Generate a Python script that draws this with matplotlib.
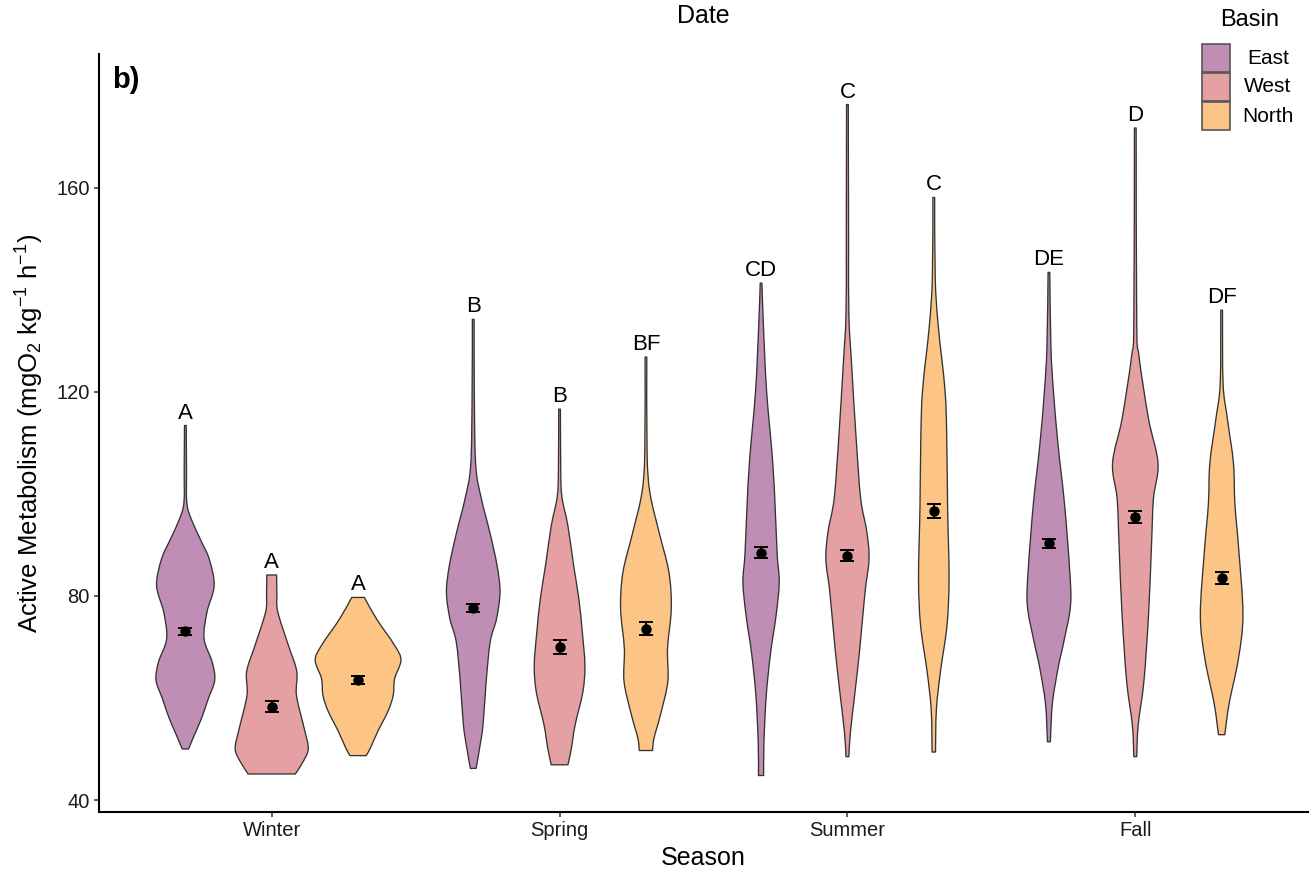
import matplotlib
matplotlib.use("Agg")
import matplotlib.pyplot as plt
from matplotlib.path import Path
from matplotlib.patches import PathPatch, Rectangle
import numpy as np

plt.rcParams["font.family"] = ["Liberation Sans", "DejaVu Sans"]
plt.rcParams["mathtext.default"] = "regular"

seasons = ["Winter", "Spring", "Summer", "Fall"]
basins = ["East", "West", "North"]
basin_colors = ["#C08DB4", "#E5A0A3", "#FCC585"]

# density outlines: metabolism value and half-width of the violin at that value
east_winter_y = [50.0, 52.7, 56.0, 59.9, 63.5, 67.1, 71.6, 76.8, 82.0, 87.2, 91.1, 95.0, 98.3, 105.0, 113.4]
east_winter_w = [.011, .031, .056, .080, .102, .093, .065, .075, .100, .083, .052, .021, .005, .004, .003]
west_winter_y = [45.1, 47.6, 50.1, 54.0, 60.5, 65.2, 70.3, 76.9, 80.5, 84.1]
west_winter_w = [.082, .110, .127, .113, .086, .087, .058, .021, .018, .017]
north_winter_y = [48.7, 50.1, 53.5, 57.4, 60.5, 63.8, 67.4, 70.3, 75.5, 79.7]
north_winter_w = [.028, .042, .069, .104, .122, .127, .149, .127, .064, .022]

east_spring_y = [46.2, 50.1, 54.7, 63.2, 71.0, 75.5, 80.7, 85.9, 92.4, 98.9, 105.4, 118.4, 134.2]
east_spring_w = [.010, .022, .034, .045, .059, .081, .093, .083, .058, .029, .009, .004, .003]
west_spring_y = [46.9, 50.1, 54.7, 61.2, 66.4, 72.9, 79.4, 85.9, 93.7, 99.5, 105.0, 116.6]
west_spring_w = [.029, .041, .054, .081, .088, .079, .067, .049, .029, .008, .004, .003]
north_spring_y = [49.7, 52.1, 56.6, 63.2, 69.7, 77.5, 84.6, 92.4, 100.2, 108.1, 126.8]
north_spring_w = [.023, .028, .050, .076, .075, .088, .080, .046, .014, .004, .003]

east_summer_y = [44.8, 51.3, 60.5, 68.8, 76.1, 82.6, 88.1, 97.3, 106.5, 120.3, 133.2, 141.3]
east_summer_w = [.009, .010, .018, .033, .052, .063, .056, .049, .040, .019, .008, .003]
west_summer_y = [48.5, 53.1, 60.5, 69.7, 80.7, 87.2, 92.7, 99.1, 111.1, 124.9, 135.1, 150.0, 176.3]
west_summer_w = [.005, .010, .025, .043, .061, .075, .067, .046, .030, .015, .005, .004, .003]
north_summer_y = [49.4, 57.7, 65.1, 74.3, 83.5, 97.3, 111.1, 120.3, 133.2, 142.4, 158.1]
north_summer_w = [.006, .009, .023, .046, .053, .048, .045, .039, .015, .005, .003]

east_fall_y = [51.4, 58.9, 65.9, 71.1, 78.1, 85.1, 98.1, 109.4, 119.9, 128.6, 143.4]
east_fall_w = [.005, .012, .032, .052, .075, .072, .054, .032, .016, .007, .003]
west_fall_y = [48.5, 54.6, 63.3, 76.3, 89.4, 99.0, 106.0, 114.7, 126.9, 133.9, 171.7]
west_fall_w = [.005, .010, .030, .046, .056, .063, .079, .046, .013, .005, .003]
north_fall_y = [52.8, 58.9, 67.6, 76.3, 89.4, 98.1, 106.0, 114.7, 121.6, 136.0]
north_fall_w = [.011, .026, .058, .074, .059, .046, .041, .020, .005, .003]

# mean +/- SE per season
east_mean = [73.1, 77.6, 88.5, 90.3]
east_se = [0.7, 0.8, 1.0, 0.9]
west_mean = [58.3, 70.0, 87.9, 95.5]
west_se = [1.1, 1.4, 1.05, 1.2]
north_mean = [63.6, 73.6, 96.6, 83.5]
north_se = [0.8, 1.3, 1.4, 1.15]

# Tukey letters
east_letters = ["A", "B", "CD", "DE"]
west_letters = ["A", "B", "C", "D"]
north_letters = ["A", "BF", "C", "DF"]

profiles = [
    [(east_winter_y, east_winter_w), (east_spring_y, east_spring_w), (east_summer_y, east_summer_w), (east_fall_y, east_fall_w)],
    [(west_winter_y, west_winter_w), (west_spring_y, west_spring_w), (west_summer_y, west_summer_w), (west_fall_y, west_fall_w)],
    [(north_winter_y, north_winter_w), (north_spring_y, north_spring_w), (north_summer_y, north_summer_w), (north_fall_y, north_fall_w)],
]
means = [east_mean, west_mean, north_mean]
ses = [east_se, west_se, north_se]
letters = [east_letters, west_letters, north_letters]
offsets = [-0.3, 0.0, 0.3]


def violin_path(cx, ys, ws):
    ys = np.asarray(ys, dtype=float)
    ws = np.asarray(ws, dtype=float)
    right = np.column_stack([cx + ws, ys])
    left = np.column_stack([cx - ws, ys])[::-1]
    verts = [(cx - ws[0], ys[0])]
    codes = [Path.MOVETO]
    for side in (right, left):
        verts.append(tuple(side[0]))
        codes.append(Path.LINETO)
        n = len(side)
        # smooth outline through the profile points (catmull-rom as bezier)
        for i in range(n - 1):
            p0 = side[max(i - 1, 0)]
            p1 = side[i]
            p2 = side[i + 1]
            p3 = side[min(i + 2, n - 1)]
            verts += [tuple(p1 + (p2 - p0) / 6), tuple(p2 - (p3 - p1) / 6), tuple(p2)]
            codes += [Path.CURVE4] * 3
    verts.append((0, 0))
    codes.append(Path.CLOSEPOLY)
    return Path(verts, codes)


W, H = 1314, 874
fig = plt.figure(figsize=(W / 100, H / 100), dpi=100)
ax = fig.add_axes([99 / W, (H - 812) / H, (1308 - 99) / W, (812 - 54) / H])

x = np.arange(1, len(seasons) + 1)
for b in range(len(basins)):
    for s in range(len(seasons)):
        cx = x[s] + offsets[b]
        ys, ws = profiles[b][s]
        patch = PathPatch(violin_path(cx, ys, ws), facecolor=basin_colors[b],
                          edgecolor="#333333", lw=0.95, joinstyle="round")
        ax.add_patch(patch)
        ax.annotate(letters[b][s], (cx, max(ys)), xytext=(0, 5), textcoords="offset points",
                    ha="center", va="baseline", fontsize=16, color="black")
    ax.errorbar(x + offsets[b], means[b], yerr=ses[b], fmt="o", color="black",
                ms=6.5, capsize=5, elinewidth=1.4, capthick=1.4, zorder=5)

ax.set_xlim(0.4, 4.6)
ax.set_ylim(37.65, 186.2)
ax.set_xticks(x)
ax.set_xticklabels(seasons)
ax.set_yticks([40, 80, 120, 160])

for side in ["top", "right"]:
    ax.spines[side].set_visible(False)
for side in ["left", "bottom"]:
    ax.spines[side].set_linewidth(1.5)
ax.tick_params(length=3.5, width=1.1, color="#333333", labelsize=14.5, labelcolor="#1a1a1a", pad=3)

ax.set_xlabel("Season", fontsize=18, va="center")
ax.xaxis.set_label_coords(0.5, -(858 - 812) / 758)
ax.set_ylabel("Active Metabolism (mgO$_2$ kg$^{-1}$ h$^{-1}$)", fontsize=18.5, va="center")
ax.yaxis.set_label_coords((30 - 99) / 1209, 0.5)

fig.text(703 / W, 1 - 16 / H, "Date", fontsize=18, ha="center", va="center")
fig.text(112 / W, 1 - 80 / H, "b)", fontsize=21, fontweight="bold", ha="left", va="center")

# legend
fig.text(1250 / W, 1 - 20 / H, "Basin", fontsize=17, ha="center", va="center")
for i, (name, col) in enumerate(zip(basins, basin_colors)):
    top = 44 + i * 29
    fig.add_artist(Rectangle((1202 / W, 1 - (top + 28) / H), 28 / W, 28 / H,
                             transform=fig.transFigure, facecolor=col,
                             edgecolor="#555555", lw=1.2))
    fig.text(1268 / W, 1 - (top + 14) / H, name, fontsize=15, ha="center", va="center")

fig.savefig("out.png", dpi=100)
